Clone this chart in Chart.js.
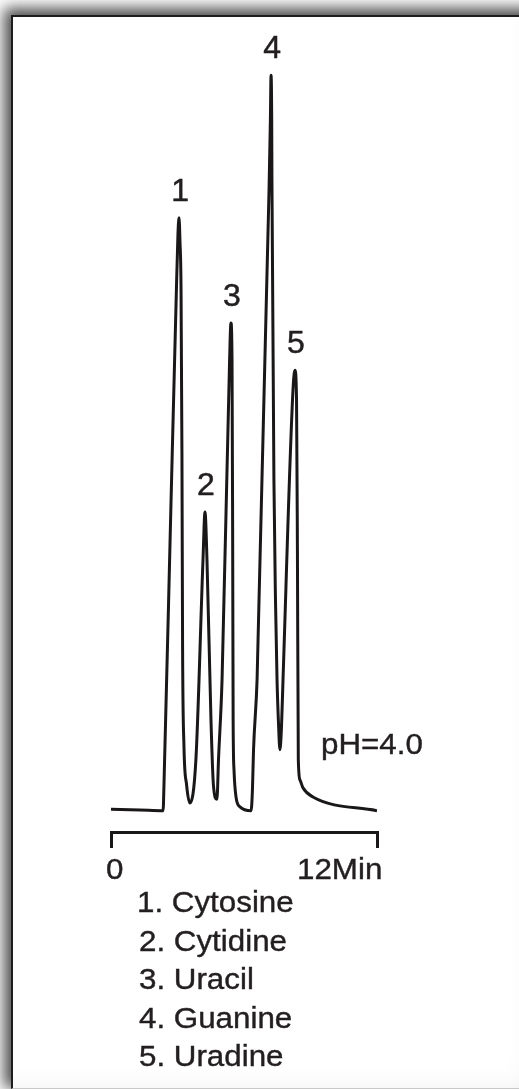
<!DOCTYPE html>
<html>
<head>
<meta charset="utf-8">
<script src="https://cdn.jsdelivr.net/npm/chart.js@4.4.1/dist/chart.umd.min.js"></script>
<style>
    html, body { margin: 0; padding: 0; background: #fff; overflow: hidden; }
    body { width: 519px; height: 1089px; position: relative; font-family: 'Liberation Sans', Arial, sans-serif; }
    .frame {
        position: absolute; left: 11px; top: 15px; width: 540px; height: 1071px;
        border-top: 2px solid #1c1c1c; border-left: 2px solid #1c1c1c; border-bottom: 1px solid #c8c8c8;
        background: #fff;
        box-shadow: -4px -4px 14px 3px rgba(0,0,0,0.7), inset -40px -18px 30px -22px rgba(0,0,0,0.08);
    }
    .wrap { position: absolute; left: 0; top: 0; width: 519px; height: 1089px; }
    .txt {
        position: absolute; font-size: 29px; line-height: 29px; color: #231f20;
        -webkit-text-stroke: 0.4px #231f20;
        white-space: nowrap; transform: scaleX(1.08); transform-origin: left top;
    }
</style>
</head>
<body>
<div class="frame"></div>
<div class="wrap"><canvas id="chromChart"></canvas></div>

<div class="txt" style="left:106px; top:855px;">0</div>
<div class="txt" style="left:297px; top:855px;">12Min</div>
<div class="txt" style="left:321px; top:730px;">pH=4.0</div>
<div class="txt" style="left:137px; top:888px;">1. Cytosine</div>
<div class="txt" style="left:139px; top:927px;">2. Cytidine</div>
<div class="txt" style="left:139px; top:965px;">3. Uracil</div>
<div class="txt" style="left:139px; top:1004px;">4. Guanine</div>
<div class="txt" style="left:139px; top:1042px;">5. Uradine</div>

<script>
// ============================================================
//  Chromatogram, pH 4.0 (time in min, detector signal)
// ============================================================

const timeMin = [
    0.00, 1.31, 2.35, 2.39,
    2.71, 2.95, 3.02, 3.07, 3.11, 3.16, 3.20, 3.23, 3.29, 3.41, 3.56,
    3.83, 4.15, 4.24, 4.33, 4.51, 4.62, 4.78,
    4.85, 5.01, 5.35, 5.41, 5.46, 5.49, 5.51, 5.55, 5.64, 5.82, 6.32,
    6.38, 6.43, 6.59, 7.13, 7.19, 7.22, 7.25, 7.26, 7.35, 7.42, 7.49, 7.56, 7.62,
    7.69, 7.76, 8.21, 8.30, 8.37, 8.41, 8.45, 8.53, 8.66, 9.11, 12.00
];

const signal = [
    3.0, 2.9, 2.8, 6.2,
    43.6, 71.1, 78.4, 80.6, 77.7, 71.1, 50.1, 23.9, 11.4, 6.2, 3.8,
    9.5, 35.7, 42.0, 35.7, 14.7, 6.2, 4.3,
    9.5, 20.0, 61.9, 66.8, 61.9, 37.0, 14.7, 8.1, 4.6, 3.3, 2.8,
    5.5, 10.8, 20.0, 84.3, 93.4, 99.3, 93.4, 85.6, 46.2, 30.5, 20.0, 14.0, 10.8,
    13.7, 20.0, 58.0, 60.6, 56.7, 37.0, 9.5, 6.8, 5.8, 4.6, 2.8
];

// peak apexes and their numbers
const peakTimes = [3.07, 4.24, 5.41, 7.22, 8.30];
const peakHeights = [80.6, 42.0, 66.8, 99.3, 60.6];
const peakNames = ['1', '2', '3', '4', '5'];

const axisTicks = [0, 12];

const peakLabelPlugin = {
    id: 'peakLabels',
    afterDatasetsDraw(chart) {
        const { ctx, scales } = chart;
        ctx.save();
        ctx.fillStyle = '#231f20';
        ctx.strokeStyle = '#231f20';
        ctx.lineWidth = 0.5;
        ctx.font = '32px "Liberation Sans", Arial, sans-serif';
        ctx.textAlign = 'center';
        ctx.textBaseline = 'alphabetic';
        peakNames.forEach((name, i) => {
            const x = scales.x.getPixelForValue(peakTimes[i]) + 1;
            const y = scales.y.getPixelForValue(peakHeights[i]) - 17;
            ctx.fillText(name, x, y);
            ctx.strokeText(name, x, y);
        });
        ctx.restore();
    }
};

const points = timeMin.map((t, i) => ({ x: t, y: signal[i] }));

new Chart(document.getElementById('chromChart').getContext('2d'), {
    type: 'line',
    data: {
        datasets: [{
            data: points,
            borderColor: '#1a1718',
            borderWidth: 3,
            borderJoinStyle: 'round',
            pointRadius: 0,
            cubicInterpolationMode: 'monotone',
            fill: false,
        }]
    },
    options: {
        responsive: true,
        maintainAspectRatio: false,
        animation: false,
        layout: { padding: { left: 111, right: 142, top: 70, bottom: 241 } },
        plugins: {
            legend: { display: false },
            tooltip: { enabled: false }
        },
        scales: {
            x: {
                type: 'linear',
                min: axisTicks[0],
                max: axisTicks[1],
                afterBuildTicks: (scale) => { scale.ticks = axisTicks.map(v => ({ value: v })); },
                ticks: { display: false },
                grid: {
                    drawOnChartArea: false,
                    drawTicks: true,
                    tickLength: 16,
                    color: '#1a1718',
                    lineWidth: 3,
                },
                border: { display: true, color: '#1a1718', width: 3 }
            },
            y: {
                display: false,
                min: 0,
                max: 100
            }
        }
    },
    plugins: [peakLabelPlugin]
});
</script>
</body>
</html>
